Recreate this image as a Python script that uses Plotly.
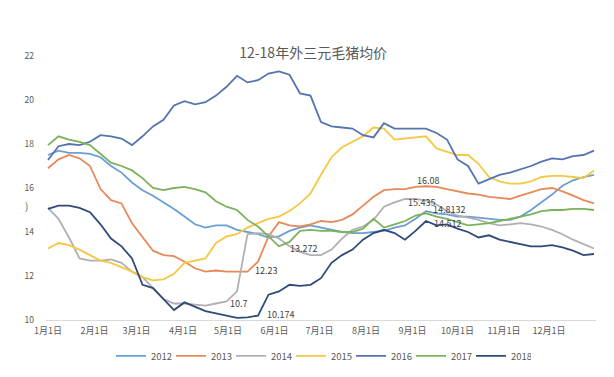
import pandas as pd
import plotly.graph_objects as go

# weekly observation dates (plotted on a common calendar year)
dates = pd.date_range("2018-01-01", periods=53, freq="7D")

y2012 = [17.5, 17.7, 17.6, 17.6, 17.55, 17.4, 17.0, 16.7, 16.25, 15.9, 15.65, 15.35, 15.05, 14.7,
         14.35, 14.2, 14.3, 14.3, 14.1, 14.0, 13.9, 13.75, 13.8, 14.05, 14.2, 14.3, 14.2, 14.1,
         14.0, 13.95, 13.95, 14.0, 14.05, 14.2, 14.3, 14.6, 14.95, 14.85, 14.8, 14.7, 14.7, 14.65,
         14.6, 14.55, 14.55, 14.7, 15.0, 15.35, 15.7, 16.1, 16.35, 16.5, 16.6]
y2013 = [16.9, 17.3, 17.5, 17.35, 17.0, 15.95, 15.45, 15.3, 14.4, 13.75, 13.15, 12.95, 12.9, 12.65,
         12.35, 12.2, 12.25, 12.2, 12.2, 12.2, 12.65, 13.8, 14.45, 14.3, 14.25, 14.35, 14.5, 14.45,
         14.55, 14.8, 15.2, 15.6, 15.9, 15.95, 15.95, 16.05, 16.08, 16.05, 15.95, 15.85, 15.75, 15.7,
         15.6, 15.55, 15.5, 15.65, 15.8, 15.95, 16.0, 15.85, 15.65, 15.45, 15.3]
y2014 = [15.1, 14.6, 13.75, 12.8, 12.7, 12.7, 12.75, 12.6, 12.2, 11.95, 11.45, 10.95, 10.75, 10.75,
         10.7, 10.65, 10.75, 10.85, 11.3, 13.9, 13.95, 13.9, 13.7, 13.35, 13.1, 12.95, 12.95, 13.2,
         13.7, 14.1, 14.25, 14.55, 15.15, 15.35, 15.5, 15.5, 15.435, 15.25, 14.95, 14.75, 14.65, 14.55,
         14.4, 14.3, 14.35, 14.4, 14.35, 14.25, 14.1, 13.9, 13.65, 13.45, 13.25]
y2015 = [13.25, 13.5, 13.4, 13.2, 12.95, 12.7, 12.6, 12.4, 12.2, 11.95, 11.8, 11.85, 12.1, 12.6,
         12.7, 12.8, 13.5, 13.8, 13.9, 14.2, 14.4, 14.6, 14.7, 14.95, 15.3, 15.75, 16.6, 17.4,
         17.85, 18.1, 18.35, 18.75, 18.7, 18.2, 18.25, 18.3, 18.35, 17.8, 17.65, 17.5, 17.5, 17.1,
         16.5, 16.3, 16.2, 16.2, 16.3, 16.5, 16.55, 16.55, 16.5, 16.45, 16.8]
y2016 = [17.27, 17.9, 18.0, 17.95, 18.1, 18.4, 18.35, 18.25, 17.95, 18.35, 18.8, 19.1, 19.75, 19.95,
         19.8, 19.9, 20.2, 20.6, 21.1, 20.8, 20.9, 21.2, 21.3, 21.15, 20.3, 20.2, 19.0, 18.8,
         18.75, 18.7, 18.4, 18.3, 18.95, 18.7, 18.7, 18.7, 18.7, 18.5, 18.2, 17.3, 17.0, 16.2,
         16.4, 16.6, 16.7, 16.85, 17.0, 17.2, 17.35, 17.3, 17.45, 17.5, 17.7]
y2017 = [17.95, 18.35, 18.2, 18.1, 17.95, 17.55, 17.15, 17.0, 16.8, 16.45, 16.0, 15.9, 16.0, 16.05,
         15.95, 15.8, 15.4, 15.15, 15.0, 14.55, 14.25, 13.8, 13.35, 13.55, 14.05, 14.1, 14.05, 14.05,
         14.0, 14.0, 14.15, 14.6, 14.2, 14.35, 14.5, 14.75, 14.85, 14.7, 14.6, 14.45, 14.3, 14.35,
         14.4, 14.5, 14.6, 14.7, 14.8, 14.95, 15.0, 15.0, 15.05, 15.05, 15.0]
y2018 = [15.05, 15.2, 15.2, 15.1, 14.9, 14.35, 13.7, 13.35, 12.8, 11.6, 11.45, 10.95, 10.45, 10.8,
         10.6, 10.4, 10.3, 10.2, 10.1, 10.12, 10.2, 11.15, 11.3, 11.6, 11.55, 11.6, 11.9, 12.6,
         12.95, 13.2, 13.65, 13.95, 14.1, 13.95, 13.65, 14.05, 14.5, 14.3, 14.35, 14.15, 14.0, 13.75,
         13.85, 13.65, 13.55, 13.45, 13.35, 13.35, 13.4, 13.3, 13.15, 12.95, 13.0]

series_names = ["2012", "2013", "2014", "2015", "2016", "2017", "2018"]
series_values = [y2012, y2013, y2014, y2015, y2016, y2017, y2018]
colors = ["#6A9FD4", "#E8895A", "#B0B0B0", "#F5C842", "#5473B0", "#7CB25A", "#2E4A78"]

tick_dates = ["2018-01-01", "2018-02-01", "2018-03-01", "2018-04-01", "2018-05-01", "2018-06-01",
              "2018-07-01", "2018-08-01", "2018-09-01", "2018-10-01", "2018-11-01", "2018-12-01"]
tick_labels = ["1月1日", "2月1日", "3月1日", "4月1日", "5月1日", "6月1日",
               "7月1日", "8月1日", "9月1日", "10月1日", "11月1日", "12月1日"]

label_texts = ["16.08", "15.435", "14.8132", "14.512", "12.23", "10.7", "10.174", "13.272"]
label_dates = ["2018-09-11", "2018-09-07", "2018-09-25", "2018-09-24", "2018-05-26", "2018-05-08",
               "2018-06-05", "2018-06-20"]
label_vals = [16.36, 15.35, 15.04, 14.40, 12.23, 10.73, 10.24, 13.27]

FONT = "Noto Sans CJK SC"
GRAY = "#595959"

fig = go.Figure()
for name, vals, c in zip(series_names, series_values, colors):
    fig.add_trace(go.Scatter(x=dates, y=vals, name=name, mode="lines",
                             line=dict(color=c, width=1.8)))

for t, d, v in zip(label_texts, label_dates, label_vals):
    fig.add_annotation(x=d, y=v, text=t, showarrow=False, xref="x", yref="y",
                       font=dict(family=FONT, size=9, color="#404040"))

fig.add_annotation(x=-0.042, y=15.2, xref="paper", yref="y", text=")", showarrow=False,
                   font=dict(family=FONT, size=10, color=GRAY))

fig.update_layout(
    width=614, height=377,
    margin=dict(l=38, r=26, t=48, b=65),
    paper_bgcolor="white", plot_bgcolor="white",
    title=dict(text="12-18年外三元毛猪均价", x=0.497, xanchor="center",
               y=1 - 45 / 377, yanchor="middle", yref="container",
               font=dict(family=FONT, size=14, color=GRAY)),
    showlegend=True,
    legend=dict(orientation="h", x=0.5, xanchor="center", y=-0.136, yanchor="middle",
                font=dict(family=FONT, size=9.5, color=GRAY), itemwidth=30,
                entrywidth=15, entrywidthmode="pixels", traceorder="normal"),
    xaxis=dict(type="date", range=["2017-12-30 16:00", "2019-01-01 08:00"],
               tickmode="array", tickvals=tick_dates, ticktext=tick_labels,
               showgrid=False, showline=True, linecolor="#D9D9D9", linewidth=1,
               zeroline=False, ticks="", ticklabelstandoff=2,
               tickfont=dict(family=FONT, size=9, color=GRAY)),
    yaxis=dict(range=[10, 22], tickvals=[10, 12, 14, 16, 18, 20, 22],
               showgrid=False, showline=False, zeroline=False, ticks="",
               ticklabelstandoff=11,
               tickfont=dict(family=FONT, size=8.5, color=GRAY)),
)

fig.write_html("out.html")
